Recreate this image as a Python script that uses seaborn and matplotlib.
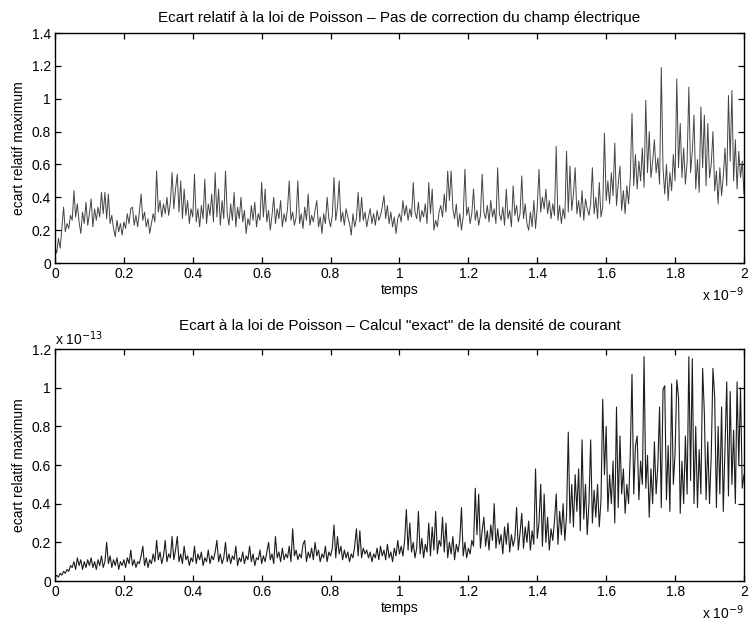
import numpy as np
import pandas as pd
import matplotlib
matplotlib.use("Agg")
import matplotlib.pyplot as plt
import seaborn as sns
from matplotlib.ticker import ScalarFormatter

# time axis: 401 samples over 2 ns
time_s = np.linspace(0.0, 2e-9, 401)

# maximum relative deviation from Poisson's law, no correction of the electric field
ecart_sans_correction = [
    0.10, 0.06, 0.15, 0.09, 0.21, 0.34, 0.19, 0.24, 0.21, 0.29,
    0.26, 0.44, 0.28, 0.36, 0.25, 0.18, 0.31, 0.24, 0.37, 0.23,
    0.30, 0.39, 0.22, 0.33, 0.26, 0.34, 0.28, 0.43, 0.30, 0.43,
    0.27, 0.42, 0.24, 0.29, 0.21, 0.16, 0.26, 0.19, 0.24, 0.17,
    0.25, 0.21, 0.30, 0.24, 0.33, 0.34, 0.23, 0.29, 0.22, 0.31,
    0.42, 0.26, 0.31, 0.22, 0.27, 0.18, 0.24, 0.30, 0.25, 0.56,
    0.31, 0.38, 0.28, 0.36, 0.30, 0.40, 0.29, 0.37, 0.55, 0.33,
    0.45, 0.54, 0.31, 0.50, 0.27, 0.45, 0.29, 0.38, 0.24, 0.33,
    0.28, 0.54, 0.25, 0.33, 0.22, 0.35, 0.27, 0.51, 0.24, 0.36,
    0.29, 0.42, 0.25, 0.55, 0.28, 0.45, 0.23, 0.38, 0.27, 0.56,
    0.30, 0.23, 0.36, 0.26, 0.43, 0.22, 0.34, 0.27, 0.40, 0.25,
    0.32, 0.18, 0.27, 0.23, 0.35, 0.26, 0.37, 0.22, 0.30, 0.26,
    0.49, 0.28, 0.45, 0.25, 0.32, 0.20, 0.29, 0.40, 0.24, 0.33,
    0.27, 0.38, 0.22, 0.30, 0.25, 0.33, 0.50, 0.26, 0.31, 0.23,
    0.28, 0.50, 0.24, 0.30, 0.21, 0.34, 0.26, 0.42, 0.23, 0.29,
    0.25, 0.32, 0.38, 0.22, 0.28, 0.18, 0.30, 0.24, 0.40, 0.27,
    0.22, 0.29, 0.52, 0.26, 0.34, 0.50, 0.25, 0.31, 0.23, 0.33,
    0.28, 0.24, 0.17, 0.30, 0.22, 0.27, 0.43, 0.25, 0.40, 0.26,
    0.31, 0.22, 0.28, 0.33, 0.24, 0.30, 0.23, 0.32, 0.26, 0.29,
    0.34, 0.41, 0.27, 0.35, 0.24, 0.31, 0.22, 0.28, 0.18, 0.27,
    0.30, 0.25, 0.38, 0.29, 0.35, 0.26, 0.33, 0.28, 0.49, 0.31,
    0.27, 0.37, 0.25, 0.32, 0.28, 0.36, 0.24, 0.49, 0.30, 0.45,
    0.20, 0.26, 0.22, 0.31, 0.35, 0.28, 0.42, 0.31, 0.56, 0.38,
    0.56, 0.33, 0.27, 0.36, 0.22, 0.30, 0.20, 0.28, 0.57, 0.29,
    0.34, 0.24, 0.30, 0.45, 0.26, 0.32, 0.23, 0.29, 0.54, 0.31,
    0.27, 0.35, 0.25, 0.38, 0.28, 0.33, 0.24, 0.58, 0.30, 0.26,
    0.34, 0.23, 0.45, 0.27, 0.32, 0.22, 0.47, 0.29, 0.35, 0.25,
    0.30, 0.53, 0.27, 0.36, 0.24, 0.20, 0.31, 0.22, 0.38, 0.21,
    0.34, 0.57, 0.31, 0.40, 0.33, 0.45, 0.30, 0.38, 0.27, 0.36,
    0.29, 0.71, 0.26, 0.35, 0.24, 0.33, 0.27, 0.68, 0.31, 0.59,
    0.32, 0.42, 0.58, 0.30, 0.38, 0.28, 0.44, 0.26, 0.39, 0.33,
    0.29, 0.36, 0.58, 0.30, 0.40, 0.27, 0.49, 0.28, 0.34, 0.79,
    0.38, 0.50, 0.36, 0.55, 0.41, 0.73, 0.35, 0.48, 0.59, 0.32,
    0.44, 0.30, 0.47, 0.36, 0.52, 0.91, 0.47, 0.66, 0.45, 0.62,
    0.50, 0.70, 0.46, 0.99, 0.55, 0.80, 0.52, 0.62, 0.75, 0.55,
    0.64, 0.48, 1.19, 0.58, 0.42, 0.60, 0.38, 0.55, 0.44, 0.66,
    0.50, 1.12, 0.58, 0.85, 0.52, 0.70, 0.48, 0.62, 1.07, 0.55,
    0.68, 0.90, 0.45, 0.63, 0.43, 0.95, 0.58, 0.90, 0.47, 0.85,
    0.52, 0.60, 0.80, 0.44, 0.56, 0.36, 0.58, 0.41, 0.53, 0.70,
    0.47, 1.02, 0.62, 1.05, 0.50, 0.75, 0.45, 0.68, 0.52, 0.62,
    0.42,
]

# deviation from Poisson's law with the "exact" current density (units of 1e-13)
ecart_courant_exact = [
    0.02, 0.03, 0.02, 0.04, 0.03, 0.05, 0.04, 0.06, 0.05, 0.08,
    0.07, 0.10, 0.06, 0.12, 0.08, 0.11, 0.06, 0.10, 0.07, 0.11,
    0.08, 0.12, 0.07, 0.10, 0.06, 0.11, 0.08, 0.13, 0.07, 0.10,
    0.20, 0.09, 0.13, 0.07, 0.11, 0.08, 0.12, 0.06, 0.10, 0.08,
    0.11, 0.07, 0.12, 0.09, 0.16, 0.08, 0.11, 0.07, 0.10, 0.09,
    0.13, 0.18, 0.08, 0.12, 0.07, 0.11, 0.09, 0.14, 0.10, 0.21,
    0.11, 0.15, 0.09, 0.13, 0.21, 0.10, 0.14, 0.12, 0.23, 0.11,
    0.16, 0.23, 0.10, 0.14, 0.09, 0.18, 0.11, 0.13, 0.08, 0.12,
    0.10, 0.18, 0.09, 0.14, 0.11, 0.15, 0.08, 0.12, 0.10, 0.16,
    0.09, 0.13, 0.11, 0.15, 0.21, 0.10, 0.14, 0.09, 0.12, 0.20,
    0.10, 0.14, 0.09, 0.13, 0.11, 0.18, 0.08, 0.12, 0.10, 0.15,
    0.09, 0.13, 0.11, 0.18, 0.10, 0.14, 0.08, 0.12, 0.11, 0.16,
    0.09, 0.13, 0.10, 0.15, 0.20, 0.11, 0.14, 0.09, 0.23, 0.12,
    0.15, 0.10, 0.17, 0.11, 0.14, 0.12, 0.18, 0.10, 0.27, 0.13,
    0.16, 0.11, 0.14, 0.12, 0.19, 0.21, 0.10, 0.15, 0.12, 0.17,
    0.11, 0.20, 0.13, 0.16, 0.10, 0.14, 0.12, 0.18, 0.10, 0.15,
    0.13, 0.17, 0.29, 0.12, 0.23, 0.14, 0.18, 0.11, 0.16, 0.12,
    0.15, 0.10, 0.14, 0.12, 0.18, 0.27, 0.13, 0.26, 0.12, 0.17,
    0.14, 0.16, 0.12, 0.15, 0.10, 0.14, 0.12, 0.17, 0.11, 0.18,
    0.13, 0.16, 0.11, 0.19, 0.12, 0.15, 0.10, 0.17, 0.13, 0.21,
    0.14, 0.18, 0.13, 0.21, 0.37, 0.16, 0.30, 0.15, 0.20, 0.12,
    0.17, 0.36, 0.14, 0.22, 0.12, 0.19, 0.15, 0.30, 0.13, 0.28,
    0.16, 0.36, 0.14, 0.21, 0.18, 0.33, 0.15, 0.30, 0.12, 0.20,
    0.14, 0.23, 0.11, 0.19, 0.15, 0.21, 0.38, 0.13, 0.20, 0.12,
    0.17, 0.14, 0.21, 0.18, 0.48, 0.24, 0.45, 0.17, 0.26, 0.33,
    0.18, 0.26, 0.16, 0.29, 0.21, 0.40, 0.17, 0.27, 0.19, 0.24,
    0.14, 0.28, 0.19, 0.30, 0.15, 0.24, 0.18, 0.22, 0.38, 0.16,
    0.25, 0.35, 0.17, 0.28, 0.20, 0.31, 0.16, 0.26, 0.19, 0.58,
    0.22, 0.30, 0.50, 0.18, 0.45, 0.20, 0.33, 0.16, 0.27, 0.21,
    0.31, 0.45, 0.19, 0.36, 0.24, 0.40, 0.21, 0.34, 0.77, 0.30,
    0.50, 0.28, 0.55, 0.36, 0.58, 0.26, 0.73, 0.32, 0.50, 0.24,
    0.40, 0.73, 0.30, 0.47, 0.33, 0.50, 0.28, 0.42, 0.94, 0.55,
    0.80, 0.36, 0.55, 0.40, 0.62, 0.30, 0.90, 0.38, 0.75, 0.45,
    0.58, 0.35, 0.50, 0.40, 0.66, 1.07, 0.45, 0.70, 0.75, 0.42,
    0.62, 0.50, 1.16, 0.48, 0.65, 0.33, 0.58, 0.40, 0.72, 0.45,
    0.60, 0.90, 0.38, 0.99, 1.01, 0.42, 0.70, 0.36, 1.02, 0.50,
    0.66, 1.04, 0.95, 0.35, 0.62, 0.40, 0.75, 0.45, 1.16, 0.52,
    1.15, 0.40, 0.80, 0.38, 0.68, 0.45, 1.10, 0.87, 0.42, 0.72,
    0.40, 0.65, 1.10, 0.95, 0.38, 0.80, 0.45, 0.90, 0.36, 0.70,
    1.03, 0.44, 0.98, 0.50, 0.78, 0.40, 1.03, 0.60, 1.00, 0.48,
    0.55,
]

# tick positions
ticks_temps = [0.0, 0.2e-9, 0.4e-9, 0.6e-9, 0.8e-9, 1.0e-9,
               1.2e-9, 1.4e-9, 1.6e-9, 1.8e-9, 2.0e-9]
ticks_haut = [0.0, 0.2, 0.4, 0.6, 0.8, 1.0, 1.2, 1.4]
ticks_bas = [0.0, 0.2e-13, 0.4e-13, 0.6e-13, 0.8e-13, 1.0e-13, 1.2e-13]

titre_haut = "Ecart relatif à la loi de Poisson – Pas de correction du champ électrique"
titre_bas = "Ecart à la loi de Poisson – Calcul \"exact\" de la densité de courant"
label_x = "temps"
label_y = "ecart relatif maximum"


class PowerFormatter(ScalarFormatter):
    """Plain tick numbers with a 'x 10^n' multiplier shown beside the axis."""

    def __init__(self):
        super().__init__(useOffset=False)
        self.set_powerlimits((-3, 3))

    def __call__(self, x, pos=None):
        v = round(x / 10.0 ** self.orderOfMagnitude, 6)
        if v == 0:
            v = 0.0
        return f"{v:g}"

    def get_offset(self):
        if self.orderOfMagnitude == 0:
            return ""
        return r"x 10$^{%d}$" % self.orderOfMagnitude


sns.set_theme(style="ticks", rc={
    "axes.edgecolor": "black",
    "axes.linewidth": 1.0,
    "xtick.direction": "in",
    "ytick.direction": "in",
    "xtick.top": True,
    "ytick.right": True,
    "xtick.major.size": 4,
    "ytick.major.size": 4,
    "xtick.major.width": 0.9,
    "ytick.major.width": 0.9,
    "xtick.color": "black",
    "ytick.color": "black",
    "text.color": "black",
    "axes.labelcolor": "black",
})
plt.rcParams["font.family"] = ["Liberation Sans", "DejaVu Sans"]
plt.rcParams["font.size"] = 10

df_haut = pd.DataFrame({"temps": time_s, "ecart": ecart_sans_correction})
df_bas = pd.DataFrame({"temps": time_s, "ecart": np.array(ecart_courant_exact) * 1e-13})

fig = plt.figure(figsize=(7.53, 6.31), dpi=100)
ax1 = fig.add_axes([0.073, 0.5832, 0.915, 0.3645])
ax2 = fig.add_axes([0.073, 0.0792, 0.915, 0.3677])

sns.lineplot(data=df_haut, x="temps", y="ecart", ax=ax1, color="#444444",
             linewidth=0.7, estimator=None)
sns.lineplot(data=df_bas, x="temps", y="ecart", ax=ax2, color="#1c1c1c",
             linewidth=0.8, estimator=None)

for ax, title, yticks, tpad in ((ax1, titre_haut, ticks_haut, 8),
                                (ax2, titre_bas, ticks_bas, 14)):
    ax.set_xticks(ticks_temps)
    ax.set_yticks(yticks)
    ax.set_xlim(ticks_temps[0], ticks_temps[-1])
    ax.set_ylim(yticks[0], yticks[-1])
    ax.xaxis.set_major_formatter(PowerFormatter())
    ax.yaxis.set_major_formatter(PowerFormatter())
    ax.set_title(title, fontsize=11, pad=tpad)
    ax.set_xlabel(label_x, fontsize=10, labelpad=1)
    ax.set_ylabel(label_y, fontsize=10, labelpad=4)
    ax.tick_params(labelsize=10, pad=3)
    ax.xaxis.get_offset_text().set_fontsize(10)
    ax.yaxis.get_offset_text().set_fontsize(10)
    for s in ax.spines.values():
        s.set_visible(True)

fig.savefig("out.png", dpi=100)
